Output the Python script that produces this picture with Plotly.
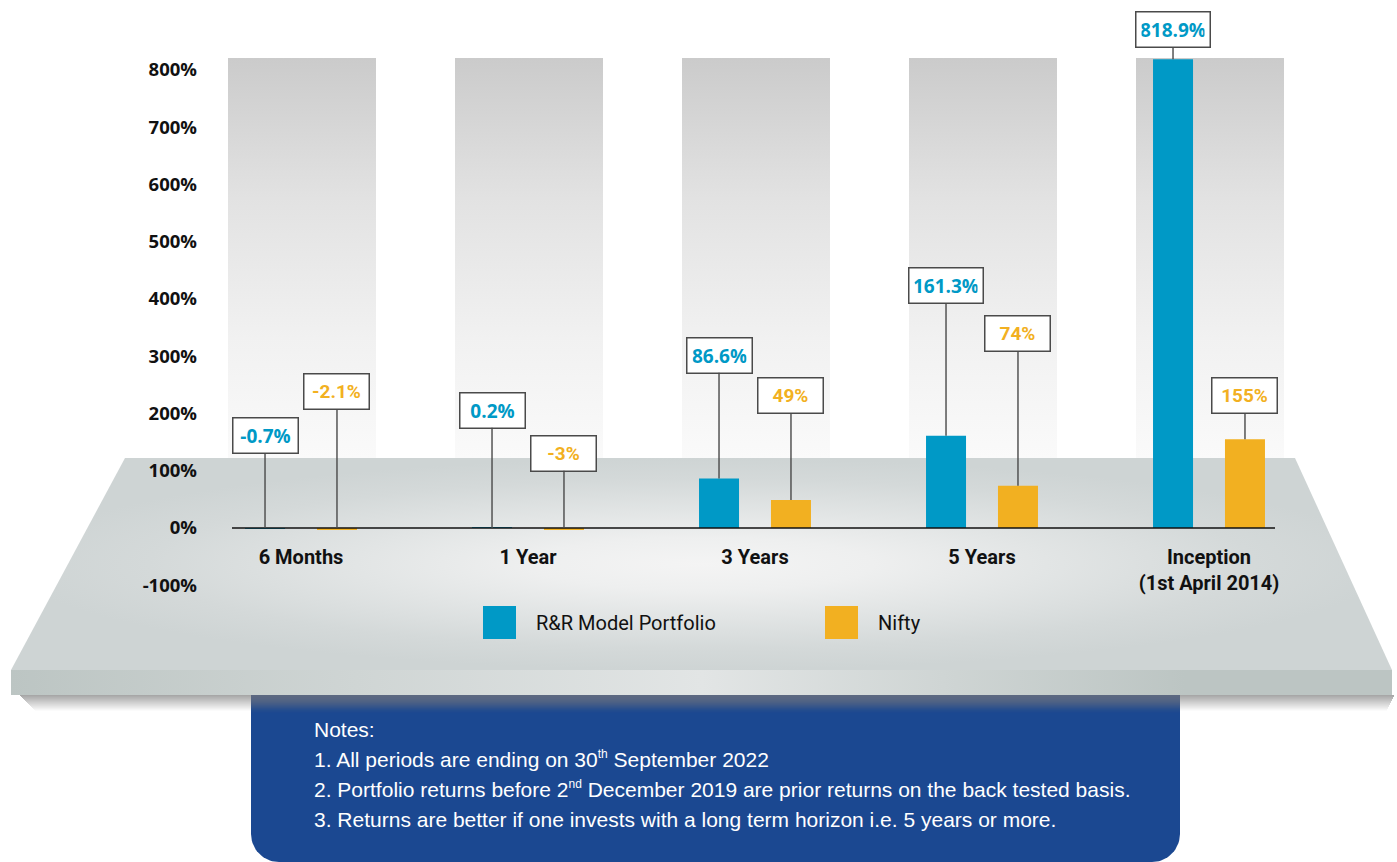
import numpy as np
import plotly.graph_objects as go

# ---- data -----------------------------------------------------------------
CATEGORIES = ["6 Months", "1 Year", "3 Years", "5 Years", "Inception<br>(1st April 2014)"]
SERIES = ["R&R Model Portfolio", "Nifty"]
PORTFOLIO = [-0.7, 0.2, 86.6, 161.3, 818.9]
NIFTY = [-2.1, -3, 49, 74, 155]
Y_TICKS = [-100, 0, 100, 200, 300, 400, 500, 600, 700, 800]
Y_TICK_TEXT = [f"{v}%" for v in Y_TICKS]

SUP = "<sup><span style='font-size:12px'>{}</span></sup>"
NOTES = [
    "Notes:",
    "1. All periods are ending on 30" + SUP.format("th") + " September 2022",
    "2. Portfolio returns before 2" + SUP.format("nd") + " December 2019 are prior returns on the back tested basis.",
    "3. Returns are better if one invests with a long term horizon i.e. 5 years or more.",
]

# ---- layout constants -----------------------------------------------------
W, H = 1397, 862
ZERO_PX, PX_PER_UNIT = 528, 0.5725          # value axis: pixel row of 0 % and scale
CAT0_PX, CAT_STEP_PX = 301, 227             # category axis: first group centre and spacing
BARGAP, BARGROUPGAP = 0.366, 0.444
SLOT = (1 - BARGAP) / 2                      # width of one bar slot inside a group

# heights (in % units) at which the call-out boxes sit
PORTFOLIO_LABEL_AT = [162, 206, 302, 424, 870]
NIFTY_LABEL_AT = [238, 131, 232, 339, 232]

BLUE, ORANGE = "#0099c6", "#f2b021"
NAVY = "#1b4891"

y2_range = [(ZERO_PX - H) / PX_PER_UNIT, ZERO_PX / PX_PER_UNIT]
x2_range = [-CAT0_PX / CAT_STEP_PX, (W - CAT0_PX) / CAT_STEP_PX]

fig = go.Figure()
shapes = []

# ---- backdrop (drawn on a pixel-based axis pair; vertical gradients run bottom -> top)
col_half = 74
col_top, col_bottom = 58, 458
cx, cy = [], []
for i in range(len(CATEGORIES)):
    c = CAT0_PX + CAT_STEP_PX * i + 1
    cx += [c - col_half, c + col_half, c + col_half, c - col_half, c - col_half, None]
    cy += [col_top, col_top, col_bottom, col_bottom, col_top, None]
fig.add_trace(go.Scatter(
    x=cx, y=cy, mode="lines", line=dict(width=0), fill="toself",
    fillgradient=dict(type="vertical",
                      colorscale=[[0, "#fafafa"], [0.3, "#f1f1f1"], [0.65, "#e2e2e2"], [1, "#cbcbcb"]]),
    hoverinfo="skip"))

# platform top surface
fig.add_trace(go.Scatter(
    x=[125, 1295, 1392, 11, 125], y=[458, 458, 670, 670, 458],
    mode="lines", line=dict(width=0), fill="toself",
    fillgradient=dict(type="radial",
                      colorscale=[[0, "#f4f4f4"], [0.25, "#eeefef"], [0.5, "#e2e5e5"],
                                  [0.8, "#d4d9d9"], [1, "#ced4d4"]]),
    hoverinfo="skip"))

# platform front face
fig.add_trace(go.Scatter(
    x=[11, 1392, 1392, 11, 11], y=[670, 670, 695, 695, 670],
    mode="lines", line=dict(width=0), fill="toself",
    fillgradient=dict(type="horizontal",
                      colorscale=[[0, "#bcc5c3"], [0.5, "#e2e5e5"], [0.85, "#bcc5c3"], [1, "#bcc5c3"]]),
    hoverinfo="skip"))

# soft shadow under the platform: 1 px bands fading out downwards
shadow_alpha = np.linspace(0.45, 0.02, 16)
for j, a in enumerate(shadow_alpha):
    shapes.append(dict(type="rect", xref="x", yref="y", x0=20 + j, x1=1394 - j // 2,
                       y0=695 + j, y1=696 + j,
                       fillcolor=f"rgba(60,60,60,{a:.3f})", line=dict(width=0), layer="below"))

# notes panel with rounded lower corners
r = 28
bx0, bx1, by0, by1 = 251, 1180, 695, 862
t = np.linspace(0, np.pi / 2, 20)
px = [bx0, bx1, bx1] + list(bx1 - r + r * np.cos(t)) + list(bx0 + r - r * np.sin(t)) + [bx0, bx0]
py = [by0, by0, by1 - r] + list(by1 - r + r * np.sin(t)) + list(by1 - r + r * np.cos(t)) + [by1 - r, by0]
fig.add_trace(go.Scatter(
    x=px, y=py, mode="lines", line=dict(width=0), fill="toself", fillcolor=NAVY,
    hoverinfo="skip"))

# shading where the platform overhangs the notes panel
panel_shade = [0.62, 0.61, 0.6, 0.58, 0.56, 0.53, 0.5, 0.46, 0.42, 0.37,
               0.32, 0.27, 0.22, 0.17, 0.12, 0.08, 0.05, 0.02]
for j, a in enumerate(panel_shade):
    shapes.append(dict(type="rect", xref="x", yref="y", x0=bx0, x1=bx1,
                       y0=695 + j, y1=696 + j,
                       fillcolor=f"rgba(132,124,120,{a})", line=dict(width=0), layer="above"))

# ---- bars on the value / category axes -------------------------------------
idx = list(range(len(CATEGORIES)))
for name, vals, color in [(SERIES[0], PORTFOLIO, BLUE), (SERIES[1], NIFTY, ORANGE)]:
    fig.add_trace(go.Bar(x=idx, y=vals, name=name, marker=dict(color=color, line=dict(width=0)),
                         xaxis="x2", yaxis="y2", hoverinfo="skip"))

# ---- call-out labels ---------------------------------------------------------
annotations = []
for k, (vals, label_at, color, family) in enumerate([
        (PORTFOLIO, PORTFOLIO_LABEL_AT, BLUE, "Open Sans"),
        (NIFTY, NIFTY_LABEL_AT, ORANGE, "Roboto")]):
    shift = (k - 0.5) * SLOT
    for i, v in enumerate(vals):
        text = f"{v:g}%"
        annotations.append(dict(
            x=i + shift, y=max(v, 0), xref="x2", yref="y2",
            ax=i + shift, ay=label_at[i], axref="x2", ayref="y2",
            text=f"<b>{text}</b>", showarrow=True, arrowhead=0, arrowwidth=1.4,
            arrowcolor="#4a4a4a", standoff=0,
            font=dict(family=family, size=19, color=color),
            bgcolor="white", bordercolor="#4a4a4a", borderwidth=1.5, borderpad=5,
            width=54 if len(text) <= 5 else 63, height=24))

# legend
legend_items = [(483, SERIES[0], BLUE), (825, SERIES[1], ORANGE)]
for x0, name, color in legend_items:
    shapes.append(dict(type="rect", xref="x", yref="y", x0=x0, x1=x0 + 33, y0=606, y1=639,
                       fillcolor=color, line=dict(width=0), layer="above"))
    annotations.append(dict(x=x0 + 51, y=623, xref="x", yref="y", xanchor="left", yanchor="middle",
                            text=name, showarrow=False,
                            font=dict(family="Roboto", size=20, color="#111111")))

# zero line
shapes.append(dict(type="line", xref="x", yref="y2", x0=232, x1=1275, y0=0, y1=0,
                   line=dict(color="#111111", width=1.5), layer="above"))

# notes text
for j, line in enumerate(NOTES):
    annotations.append(dict(x=312, y=729 + 30 * j, xref="x", yref="y",
                            xanchor="left", yanchor="middle", text=line, showarrow=False,
                            font=dict(family="Liberation Sans", size=21, color="white")))

fig.update_layout(
    width=W, height=H, autosize=False,
    margin=dict(l=0, r=0, t=0, b=0, pad=0),
    paper_bgcolor="white", plot_bgcolor="rgba(0,0,0,0)",
    showlegend=False, barmode="group", bargap=BARGAP, bargroupgap=BARGROUPGAP,
    xaxis=dict(range=[0, W], visible=False, fixedrange=True),
    yaxis=dict(range=[H, 0], visible=False, fixedrange=True),
    xaxis2=dict(overlaying="x", anchor="free", position=(H - ZERO_PX) / H, range=x2_range,
                tickmode="array", tickvals=idx, ticktext=CATEGORIES,
                showgrid=False, zeroline=False, showline=False,
                ticks="outside", ticklen=11, tickcolor="rgba(0,0,0,0)",
                tickfont=dict(family="Roboto", size=20, color="#111111", weight="bold")),
    yaxis2=dict(overlaying="y", anchor="free", position=197 / W, side="left", range=y2_range,
                tickmode="array", tickvals=Y_TICKS, ticktext=Y_TICK_TEXT,
                showgrid=False, zeroline=False, showline=False, ticks="",
                tickfont=dict(family="Open Sans", size=18.5, color="#111111", weight="bold")),
    annotations=annotations, shapes=shapes,
)

fig.write_html("out.html", config={"displayModeBar": False})
